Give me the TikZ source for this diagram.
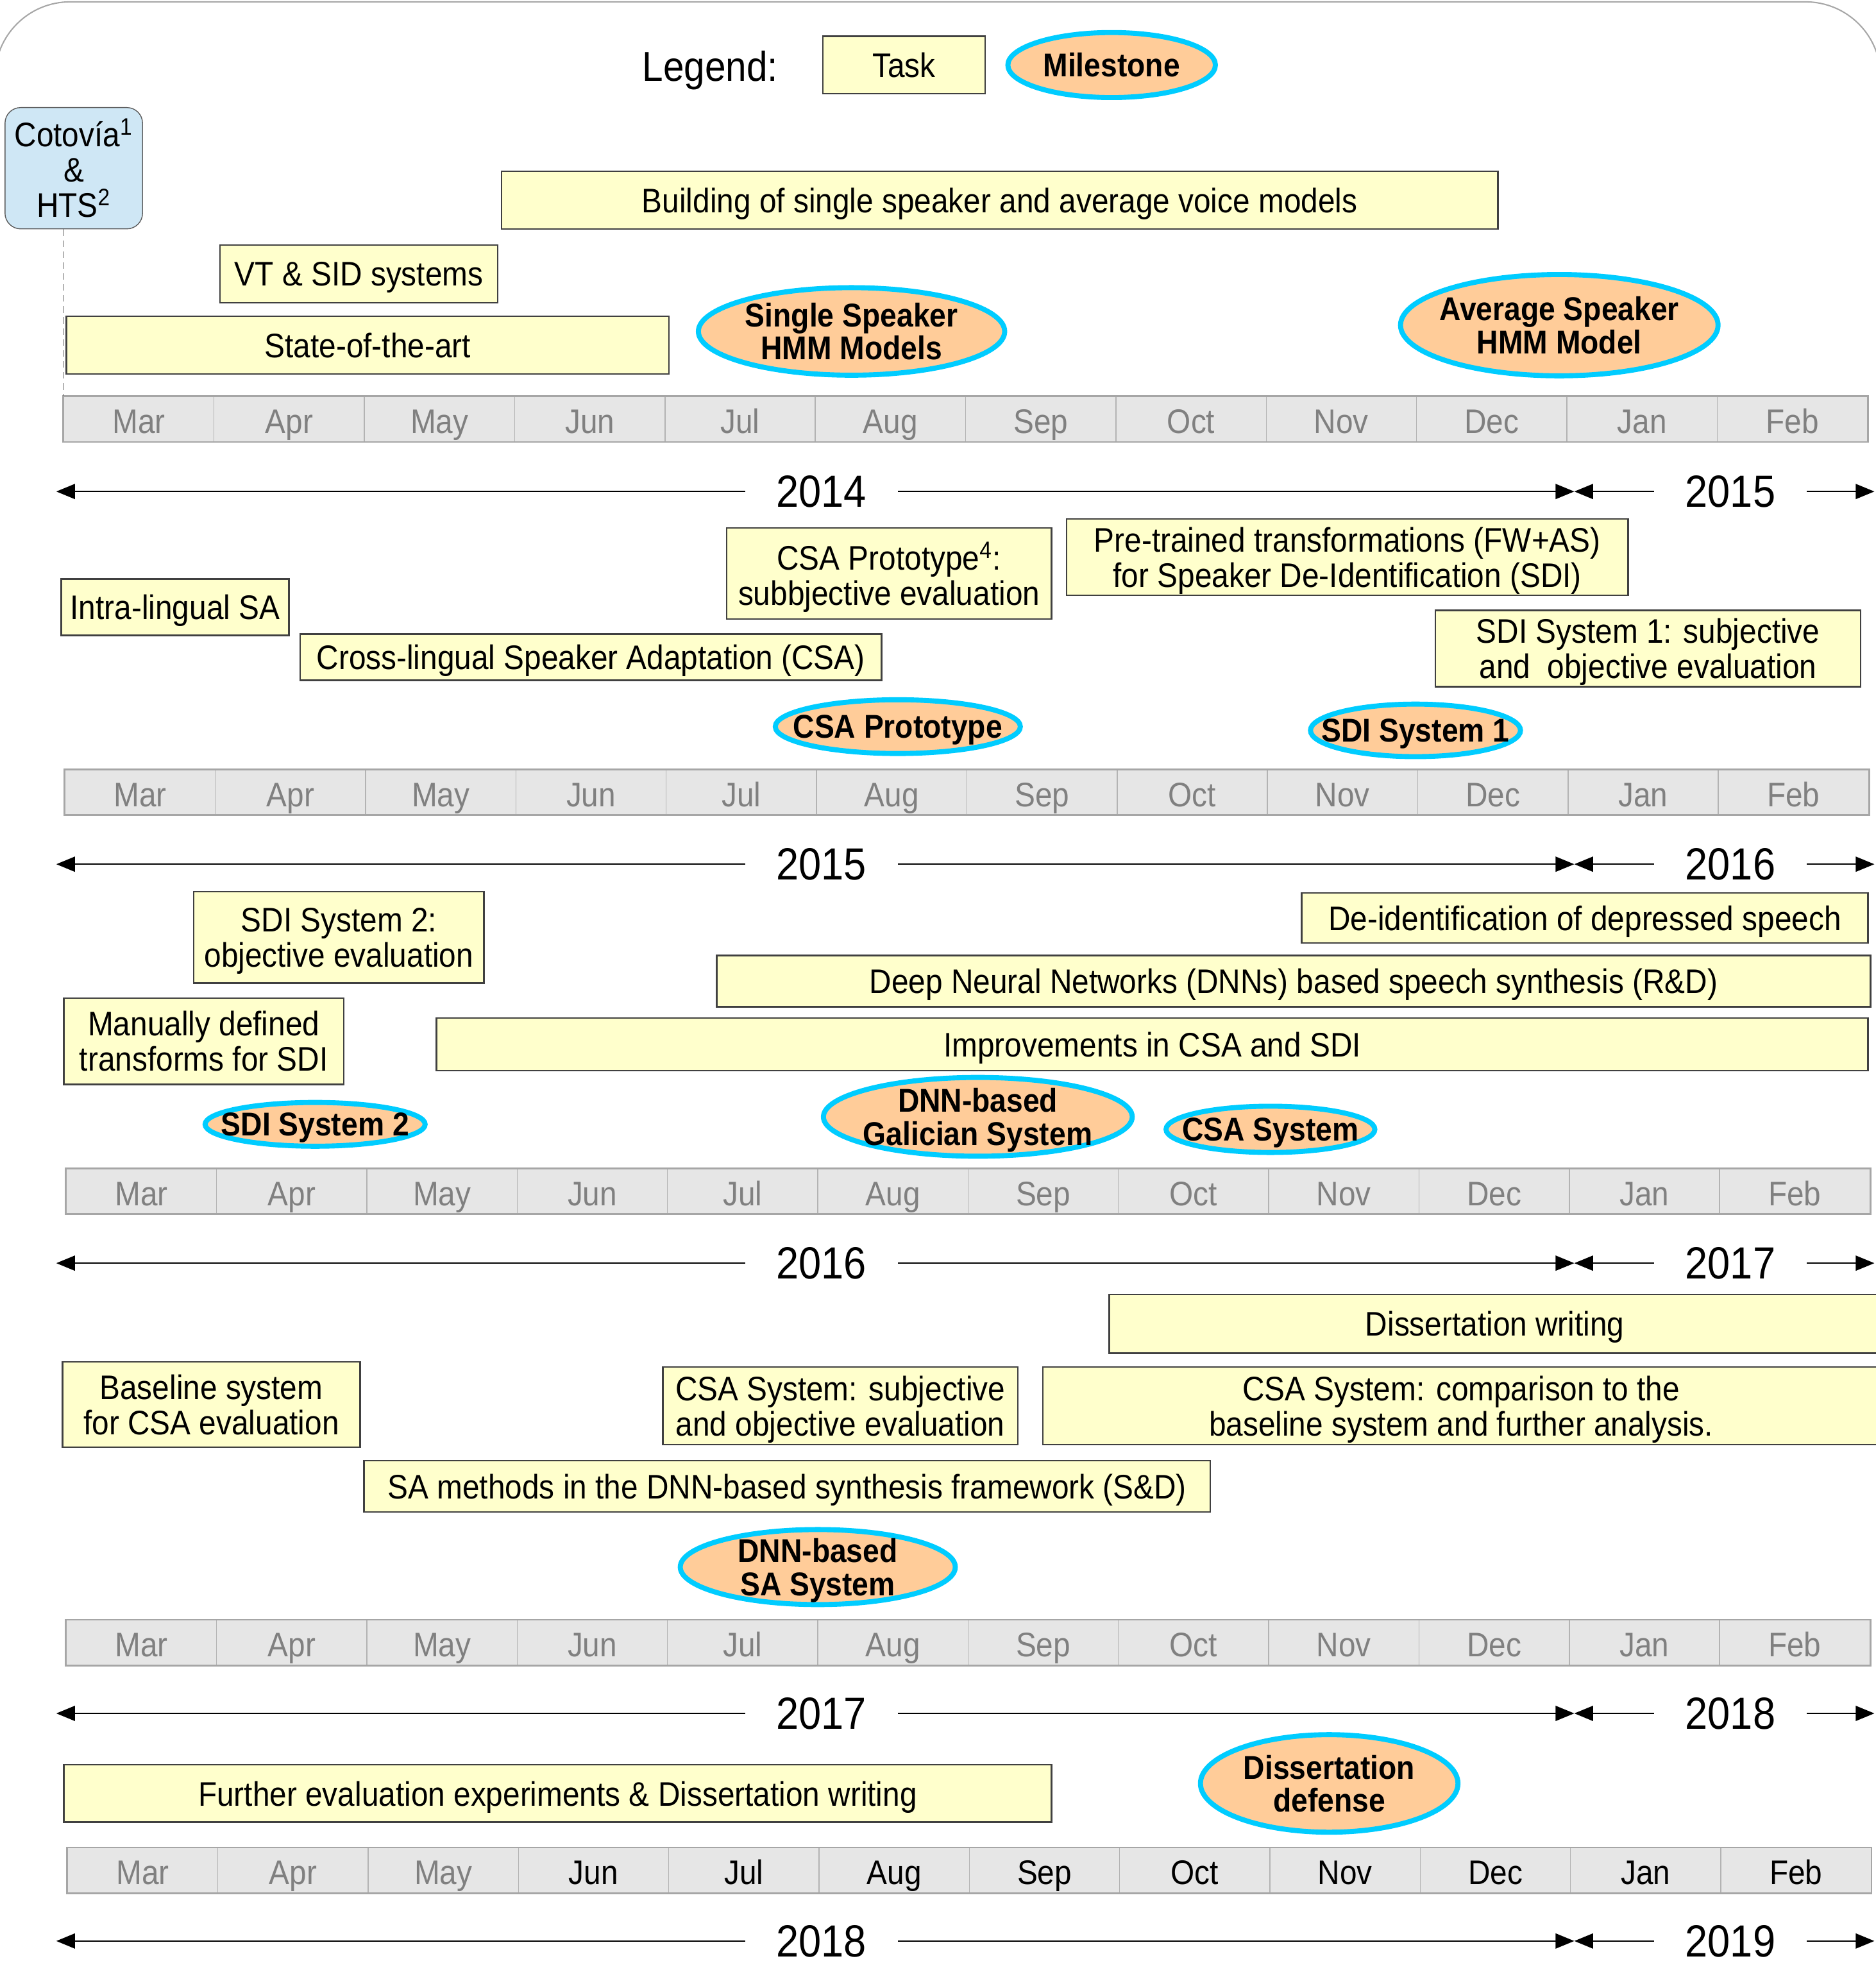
\documentclass[tikz,border=0pt]{standalone}
\usepackage{fontspec}
\setmainfont[FakeStretch=0.9]{Liberation Sans}
\usetikzlibrary{arrows.meta, shapes.geometric}
\definecolor{TaskYellow}{RGB}{255,255,204}
\definecolor{MilePeach}{RGB}{255,204,153}
\definecolor{MileCyan}{RGB}{0,204,255}
\definecolor{CellGray}{RGB}{230,230,230}
\definecolor{CellLine}{RGB}{179,179,179}
\definecolor{MonthGray}{RGB}{128,128,128}
\definecolor{ToolBlue}{RGB}{207,231,245}

\begin{document}
\begin{tikzpicture}[
    x=0.02cm, y=-0.02cm,
    font=\fontsize{15.5}{16}\selectfont,
    task/.style={draw=black!75, line width=0.7pt, fill=TaskYellow, align=center, inner sep=0pt,
        text depth=0pt},
    mile/.style={ellipse, draw=MileCyan, line width=2.3pt, fill=MilePeach, inner sep=0pt},
    miletext/.style={align=center, inner sep=0pt, text depth=0pt, font=\fontsize{15}{15}\selectfont\bfseries},
    month/.style={draw=CellLine, fill=CellGray, minimum width=2.404cm, minimum height=0.72cm,
        inner sep=0pt, text height=12.9pt, text depth=0pt, text=MonthGray},
    barline/.style={draw=black!35, line width=0.8pt},
    yearline/.style={{Triangle[length=0.3cm, width=0.24cm]}-{Triangle[length=0.3cm, width=0.24cm]},
        line width=0.7pt},
    year/.style={fill=white, inner xsep=0.5cm, inner ysep=1pt, font=\fontsize{20.5}{21}\selectfont},
]
\useasboundingbox (0,0) rectangle (1500,1568);
\draw[black!35, line width=0.6pt, rounded corners=1.2cm] (-4,1.5) rectangle (1504,1700);

% legend
\node[font=\fontsize{19}{19}\selectfont, text depth=0pt] (legend) at (568,53) {Legend:};
\node[task, minimum width=2.6cm, minimum height=0.92cm] (lgTask) at (723,52) {Task};
\node[mile, minimum width=3.32cm, minimum height=1.04cm, label={[miletext]center:Milestone}] (lgMile) at (889,52) {};

% tools
\node[draw=black!65, fill=ToolBlue, rounded corners=0.25cm, align=center, inner sep=0pt,
      minimum width=2.2cm, minimum height=1.94cm] (cot) at (59,134.5)
    {Cotovía\textsuperscript{1}\\\&\\HTS\textsuperscript{2}};

% month bars
\foreach \r/\x/\y in {1/51/335, 2/52/633.5, 3/53/952.5, 4/53/1313.5} {
    \foreach \m [count=\i] in {Mar,Apr,May,Jun,Jul,Aug,Sep,Oct,Nov,Dec,Jan,Feb}
        \node[month] (r\r-m\i) at ({\x+120.2*(\i-0.5)},\y) {\m};
    \draw[barline] (r\r-m1.north west) rectangle (r\r-m12.south east);
}
\foreach \m/\c [count=\i] in {Mar/MonthGray,Apr/MonthGray,May/MonthGray,Jun/black,Jul/black,Aug/black,
        Sep/black,Oct/black,Nov/black,Dec/black,Jan/black,Feb/black}
    \node[month, text=\c] (r5-m\i) at ({54+120.2*(\i-0.5)},1495.5) {\m};
\draw[barline] (r5-m1.north west) rectangle (r5-m12.south east);

% years
\foreach \y/\a/\b [count=\r] in {393/2014/2015, 691/2015/2016, 1010/2016/2017, 1370/2017/2018, 1552/2018/2019} {
    \coordinate (yl\r) at (45,\y);
    \coordinate (ym\r) at (1259,\y);
    \coordinate (yr\r) at (1499,\y);
    \draw[yearline] (yl\r) -- node[year, pos=0.504] (ya\r) {\a} (ym\r);
    \draw[yearline] (ym\r) -- node[year, pos=0.52] (yb\r) {\b} (yr\r);
}

\draw[black!60, densely dashed, line width=0.4pt] (cot.south -| r1-m1.west) -- (r1-m1.north west);

% 2014
\node[task, minimum width=15.94cm, minimum height=0.92cm] (build) at (799.5,160)
    {Building of single speaker and average voice models};
\node[task, minimum width=4.44cm, minimum height=0.92cm] (vtsid) at (287,219) {VT \& SID systems};
\node[task, minimum width=9.64cm, minimum height=0.92cm] (sota) at (294,276) {State-of-the-art};
\node[mile, minimum width=4.9cm, minimum height=1.4cm,
      label={[miletext]center:Single Speaker\\HMM Models}] (msSingle) at (681,265) {};
\node[mile, minimum width=5.08cm, minimum height=1.62cm,
      label={[miletext]center:Average Speaker\\HMM Model}] (msAverage) at (1247,260) {};

% 2015
\node[task, minimum width=5.2cm, minimum height=1.46cm] (csaProto) at (711,458.5)
    {CSA Prototype\textsuperscript{4}:\\subbjective evaluation};
\node[task, minimum width=8.98cm, minimum height=1.22cm] (pretrained) at (1077.5,445.5)
    {Pre-trained transformations (FW+AS)\\for Speaker De-Identification (SDI)};
\node[task, minimum width=3.64cm, minimum height=0.9cm] (intra) at (140,485.5) {Intra-lingual SA};
\node[task, minimum width=9.3cm, minimum height=0.74cm] (crossCSA) at (472.5,525.5)
    {Cross-lingual Speaker Adaptation (CSA)};
\node[task, minimum width=6.8cm, minimum height=1.22cm] (sdiOneEval) at (1318,518.5)
    {SDI System 1: subjective\\and~ objective evaluation};
\node[mile, minimum width=3.92cm, minimum height=0.86cm,
      label={[miletext]center:CSA Prototype}] (msCSAProto) at (718,581) {};
\node[mile, minimum width=3.36cm, minimum height=0.84cm,
      label={[miletext]center:SDI System 1}] (msSDIOne) at (1132,584) {};

% 2016
\node[task, minimum width=4.64cm, minimum height=1.46cm] (sdiTwoEval) at (271,749.5)
    {SDI System 2:\\objective evaluation};
\node[task, minimum width=9.06cm, minimum height=0.8cm] (deident) at (1267.5,734)
    {De-identification of depressed speech};
\node[task, minimum width=18.46cm, minimum height=0.82cm] (dnn) at (1034.5,784.5)
    {Deep Neural Networks (DNNs) based speech synthesis (R\&D)};
\node[task, minimum width=4.48cm, minimum height=1.38cm] (manual) at (163,832.5)
    {Manually defined\\transforms for SDI};
\node[task, minimum width=22.9cm, minimum height=0.84cm] (improv) at (921.5,835)
    {Improvements in CSA and SDI};
\node[mile, minimum width=3.52cm, minimum height=0.7cm,
      label={[miletext]center:SDI System 2}] (msSDITwo) at (252,899) {};
\node[mile, minimum width=4.94cm, minimum height=1.26cm,
      label={[miletext]center:DNN-based\\Galician System}] (msGalician) at (782,893) {};
\node[mile, minimum width=3.34cm, minimum height=0.74cm,
      label={[miletext]center:CSA System}] (msCSA) at (1016,903) {};

% 2017
\node[task, minimum width=12.34cm, minimum height=0.94cm] (diss) at (1195.5,1058.5) {Dissertation writing};
\node[task, minimum width=4.76cm, minimum height=1.36cm] (baseline) at (169,1123)
    {Baseline system\\for CSA evaluation};
\node[task, minimum width=5.68cm, minimum height=1.24cm] (csaEval) at (672,1124)
    {CSA System: subjective\\and objective evaluation};
\node[task, minimum width=13.38cm, minimum height=1.24cm] (compare) at (1168.5,1124)
    {CSA System: comparison to the\\baseline system and further analysis.};
\node[task, minimum width=13.54cm, minimum height=0.82cm] (saMethods) at (629.5,1188.5)
    {SA methods in the DNN-based synthesis framework (S\&D)};
\node[mile, minimum width=4.4cm, minimum height=1.2cm,
      label={[miletext]center:DNN-based\\SA System}] (msDNNSA) at (654,1253) {};

% 2018
\node[task, minimum width=15.8cm, minimum height=0.92cm] (further) at (446,1434)
    {Further evaluation experiments \& Dissertation writing};
\node[mile, minimum width=4.12cm, minimum height=1.56cm,
      label={[miletext]center:Dissertation\\defense}] (msDefense) at (1063,1426) {};

\end{tikzpicture}
\end{document}
